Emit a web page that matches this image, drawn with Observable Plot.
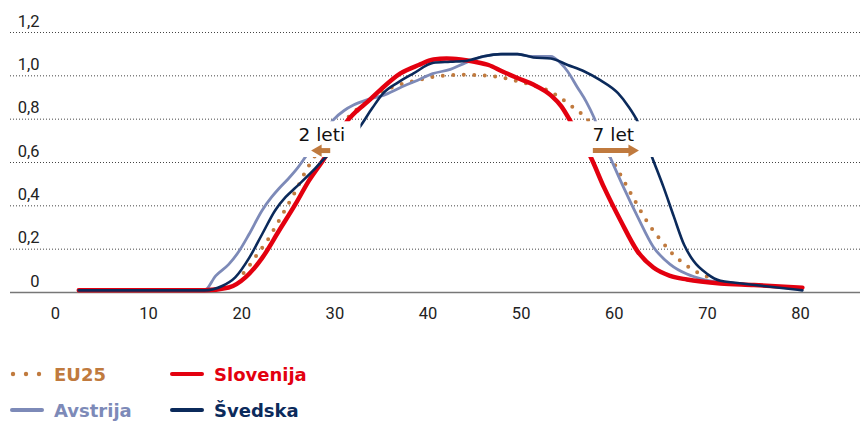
<!DOCTYPE html>
<html>
<head>
<meta charset="utf-8">
<script src="https://cdn.jsdelivr.net/npm/d3@7"></script>
<script src="https://cdn.jsdelivr.net/npm/@observablehq/plot@0.6"></script>
<style>
  html, body { margin: 0; padding: 0; background: #fff; }
  #wrap { width: 860px; }
  #legend { position: relative; width: 860px; height: 81px; font-family: "DejaVu Sans", sans-serif; font-weight: bold; font-size: 18px; }
  .item { position: absolute; display: flex; align-items: center; height: 24px; }
  .item svg { margin-right: 10px; }
</style>
</head>
<body>
<div id="wrap"></div>
<script>
// ---- data ----
const seriesNames = ["EU25", "Slovenija", "Avstrija", "Švedska"];
const seriesColors = ["#c07a3e", "#e3000f", "#7d8ab8", "#0b2a5b"];

const eu25X = [20.2, 21.1, 21.8, 22.6, 23.3, 24.5, 25.8, 27, 27.7, 29.5, 31, 32.5, 34, 36.3, 38.9, 41.4, 44, 46.7, 49.2, 51, 53, 54, 55.1, 56.2, 57.1, 58.5, 59.8, 61.1, 62.4, 63.7, 65.3, 66.1, 67.1, 68.2, 69.3, 70.5];
const eu25Y = [0.09, 0.14, 0.185, 0.23, 0.28, 0.37, 0.47, 0.57, 0.62, 0.71, 0.79, 0.85, 0.90, 0.95, 0.98, 1.00, 1.005, 1.00, 0.98, 0.96, 0.93, 0.905, 0.87, 0.835, 0.80, 0.70, 0.61, 0.51, 0.41, 0.315, 0.226, 0.185, 0.146, 0.112, 0.085, 0.066];

const sloX = [2.5, 16, 18.6, 20.4, 22.2, 24, 25.8, 27.2, 28.8, 30, 31.3, 32.4, 33.5, 35, 37, 39, 40.6, 42, 43.5, 45, 46.5, 48, 49.6, 51.3, 53.2, 54.3, 55.3, 56.3, 57.3, 58.9, 60.7, 62.5, 64.2, 66, 67.8, 71.4, 75, 80.2];
const sloY = [0.01, 0.01, 0.023, 0.07, 0.16, 0.285, 0.41, 0.515, 0.615, 0.70, 0.79, 0.84, 0.88, 0.94, 1.01, 1.05, 1.075, 1.08, 1.075, 1.065, 1.05, 1.02, 0.99, 0.96, 0.91, 0.86, 0.79, 0.71, 0.64, 0.485, 0.33, 0.19, 0.115, 0.077, 0.06, 0.042, 0.035, 0.022];

const avtX = [2.5, 16, 17.2, 18.6, 19.7, 20.8, 22.2, 23.2, 24, 25, 26, 27, 28, 29.9, 31, 32, 33.5, 35.2, 37, 38.9, 40.5, 42.4, 44, 46, 48, 49.6, 51, 53.2, 54.2, 55, 56, 57, 57.8, 58.7, 59.6, 61, 62.5, 64.2, 66, 67.8, 69.6, 72, 75, 80];
const avtY = [0.01, 0.01, 0.077, 0.13, 0.19, 0.27, 0.38, 0.44, 0.48, 0.525, 0.575, 0.635, 0.69, 0.80, 0.84, 0.865, 0.89, 0.91, 0.945, 0.98, 1.01, 1.03, 1.06, 1.09, 1.10, 1.10, 1.09, 1.09, 1.06, 1.02, 0.95, 0.88, 0.81, 0.71, 0.62, 0.485, 0.35, 0.21, 0.13, 0.085, 0.06, 0.045, 0.035, 0.02];

const sweX = [2.5, 16, 17.9, 19.3, 20.8, 22.2, 23.6, 24.7, 25.8, 27.6, 28.8, 30.5, 32.6, 34, 35.2, 36.8, 38.4, 40.6, 42.4, 44.2, 46, 47.8, 49.6, 51.3, 53.2, 55, 56.8, 58.5, 60.4, 61.5, 62.5, 63.4, 64.1, 65.3, 66.4, 67.5, 68.5, 70, 71.4, 73, 76, 80.2];
const sweY = [0.01, 0.01, 0.03, 0.07, 0.16, 0.27, 0.38, 0.44, 0.485, 0.56, 0.615, 0.68, 0.76, 0.85, 0.92, 0.97, 1.01, 1.06, 1.065, 1.07, 1.09, 1.10, 1.10, 1.085, 1.08, 1.05, 1.02, 0.98, 0.92, 0.86, 0.79, 0.70, 0.62, 0.485, 0.35, 0.22, 0.146, 0.085, 0.054, 0.045, 0.03, 0.01];

const xTicks = [0, 10, 20, 30, 40, 50, 60, 70, 80];
const yTicks = [0, 0.2, 0.4, 0.6, 0.8, 1.0, 1.2];
const yTickLabels = ["0", "0,2", "0,4", "0,6", "0,8", "1,0", "1,2"];

// annotations (data coordinates)
const annLabels = ["2 leti", "7 let"];
const annTextX = [28.6, 59.9];
const annTextY = [0.725, 0.725];
const annBoxX1 = [26.1, 55.0];
const annBoxX2 = [32.8, 64.6];
const annBoxY1 = [0.623, 0.623];
const annBoxY2 = [0.788, 0.788];
const arrowTail = [29.5, 57.7];
const arrowTip = [28.2, 61.9];
const arrowY = [0.655, 0.655];

// ---- build ----
const zip = (xs, ys) => xs.map((x, i) => ({x, y: ys[i]}));
const eu25 = zip(eu25X, eu25Y);
const slo = zip(sloX, sloY);
const avt = zip(avtX, avtY);
const swe = zip(sweX, sweY);
const ann = annLabels.map((label, i) => ({
  label, tx: annTextX[i], ty: annTextY[i],
  bx1: annBoxX1[i], bx2: annBoxX2[i], by1: annBoxY1[i], by2: annBoxY2[i],
  a1: arrowTail[i], a2: arrowTip[i], ay: arrowY[i],
  rot: arrowTip[i] > arrowTail[i] ? 90 : -90
}));

const curve = "monotone-x";
const chart = Plot.plot({
  width: 860,
  height: 340,
  marginTop: 32,
  marginBottom: 48,
  marginLeft: 10,
  marginRight: 0,
  x: {domain: [-4.83, 86.44]},
  y: {domain: [0, 1.2]},
  style: {fontFamily: "Roboto, sans-serif", fontSize: "16px", color: "#222", background: "#fff"},
  marks: [
    Plot.gridY(yTicks, {stroke: "#444", strokeOpacity: 1, strokeWidth: 1, strokeDasharray: "1,2"}),
    Plot.axisY(yTicks, {tickSize: 0, tickPadding: 0, dx: 29, dy: -11, tickFormat: (d) => yTickLabels[yTicks.indexOf(d)], fill: "#222", fontSize: 16.5, label: null}),
    Plot.axisX(xTicks, {tickSize: 0, tickPadding: 15, fill: "#222", fontSize: 16.5, label: null}),
    Plot.ruleY([0], {stroke: "#777", strokeWidth: 1.5}),
    Plot.line(eu25, {x: "x", y: "y", curve, stroke: seriesColors[0], strokeWidth: 4, strokeDasharray: "0 10.5", strokeLinecap: "round"}),
    Plot.line(avt, {x: "x", y: "y", curve, stroke: seriesColors[2], strokeWidth: 2.8}),
    Plot.line(slo, {x: "x", y: "y", curve, stroke: seriesColors[1], strokeWidth: 4.5}),
    Plot.line(swe, {x: "x", y: "y", curve, stroke: seriesColors[3], strokeWidth: 2.6}),
    Plot.rect(ann, {x1: "bx1", x2: "bx2", y1: "by1", y2: "by2", fill: "#fff"}),
    Plot.text(ann, {x: "tx", y: "ty", text: "label", fontSize: 18.5, fill: "#111", fontFamily: "DejaVu Sans, sans-serif"}),
    Plot.link(ann, {x1: "a1", x2: "a2", y1: "ay", y2: "ay", stroke: seriesColors[0], strokeWidth: 5}),
    Plot.dot(ann, {x: "a2", y: "ay", symbol: "triangle", r: 4.5, fill: seriesColors[0], rotate: "rot"})
  ]
});
document.getElementById("wrap").appendChild(chart);

// ---- legend ----
const legend = document.createElement("div");
legend.id = "legend";
const legendPos = [[0, 22], [160, 22], [0, 58], [160, 58]]; // EU25, Slovenija, Avstrija, Švedska
seriesNames.forEach((name, i) => {
  const item = document.createElement("div");
  item.className = "item";
  item.style.left = (legendPos[i][0] + 10) + "px";
  item.style.top = (legendPos[i][1]) + "px";
  item.style.color = seriesColors[i];
  const sw = i === 0
    ? `<svg width="34" height="10"><circle cx="3" cy="5" r="2.2" fill="${seriesColors[i]}"/><circle cx="16" cy="5" r="2.2" fill="${seriesColors[i]}"/><circle cx="29" cy="5" r="2.2" fill="${seriesColors[i]}"/></svg>`
    : `<svg width="34" height="10"><line x1="2" x2="32" y1="5" y2="5" stroke="${seriesColors[i]}" stroke-width="4" stroke-linecap="round"/></svg>`;
  item.innerHTML = sw + `<span>${name}</span>`;
  legend.appendChild(item);
});
document.getElementById("wrap").appendChild(legend);
</script>
</body>
</html>
